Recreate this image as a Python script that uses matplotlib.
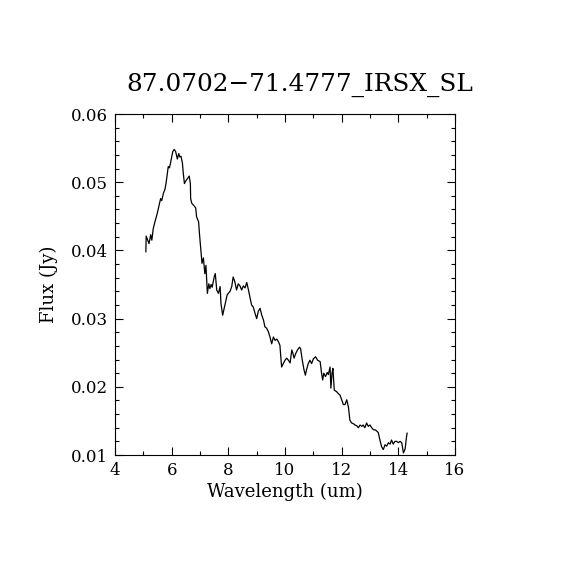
import matplotlib
matplotlib.use("Agg")
import matplotlib.pyplot as plt
from matplotlib.ticker import MultipleLocator

# spectrum
wave = [5.09, 5.10, 5.20, 5.26, 5.30, 5.35, 5.41, 5.49, 5.56, 5.61, 5.65, 5.71,
        5.76, 5.80, 5.85, 5.88, 5.92, 5.96, 6.00, 6.04, 6.09, 6.14, 6.20, 6.25,
        6.29, 6.33, 6.38, 6.41, 6.45, 6.50, 6.55, 6.62, 6.66, 6.67, 6.71, 6.78,
        6.85, 6.88, 6.95, 6.98, 7.04, 7.07, 7.12, 7.17, 7.21, 7.26, 7.31, 7.35,
        7.39, 7.43, 7.50, 7.54, 7.59, 7.65, 7.71, 7.74, 7.80, 7.88, 7.96, 8.06,
        8.12, 8.17, 8.23, 8.29, 8.35, 8.41, 8.47, 8.53, 8.59, 8.65, 8.71, 8.76,
        8.82, 8.88, 8.94, 9.00, 9.06, 9.12, 9.18, 9.24, 9.29, 9.35, 9.41, 9.47,
        9.53, 9.59, 9.65, 9.71, 9.77, 9.82, 9.88, 9.94, 10.00, 10.06, 10.12, 10.18,
        10.24, 10.28, 10.32, 10.38, 10.44, 10.51, 10.55, 10.61, 10.67, 10.72, 10.76, 10.82,
        10.88, 10.94, 11.00, 11.08, 11.15, 11.24, 11.29, 11.33, 11.37, 11.43, 11.49, 11.53,
        11.59, 11.62, 11.66, 11.69, 11.74, 11.82, 11.88, 11.94, 12.00, 12.06, 12.12, 12.18,
        12.24, 12.29, 12.35, 12.41, 12.47, 12.53, 12.59, 12.65, 12.71, 12.76, 12.82, 12.88,
        12.94, 13.00, 13.06, 13.12, 13.18, 13.24, 13.29, 13.35, 13.41, 13.47, 13.53, 13.59,
        13.65, 13.71, 13.76, 13.82, 13.88, 13.94, 14.00, 14.06, 14.12, 14.18, 14.24, 14.29,
        14.31]
flux = [0.0398, 0.0421, 0.0410, 0.0423, 0.0415, 0.0432, 0.0442, 0.0454, 0.0467, 0.0476, 0.0473, 0.0484,
        0.0489, 0.0498, 0.0513, 0.0523, 0.0521, 0.0528, 0.0537, 0.0545, 0.0548, 0.0545, 0.0534, 0.0542,
        0.0537, 0.0538, 0.0528, 0.0513, 0.0498, 0.0502, 0.0505, 0.0509, 0.0498, 0.0476, 0.0469, 0.0466,
        0.0462, 0.0449, 0.0442, 0.0425, 0.0396, 0.0381, 0.0389, 0.0366, 0.0378, 0.0337, 0.0351, 0.0344,
        0.0350, 0.0346, 0.0361, 0.0366, 0.0342, 0.0337, 0.0347, 0.0322, 0.0305, 0.0320, 0.0335, 0.0340,
        0.0347, 0.0361, 0.0354, 0.0342, 0.0351, 0.0348, 0.0342, 0.0348, 0.0345, 0.0353, 0.0342, 0.0332,
        0.0320, 0.0317, 0.0308, 0.0300, 0.0311, 0.0315, 0.0305, 0.0298, 0.0288, 0.0286, 0.0281, 0.0273,
        0.0263, 0.0273, 0.0268, 0.0270, 0.0266, 0.0261, 0.0229, 0.0234, 0.0239, 0.0242, 0.0239, 0.0235,
        0.0254, 0.0249, 0.0242, 0.0249, 0.0254, 0.0258, 0.0256, 0.0239, 0.0225, 0.0217, 0.0225, 0.0234,
        0.0239, 0.0234, 0.0241, 0.0244, 0.0239, 0.0237, 0.0220, 0.0210, 0.0220, 0.0215, 0.0221, 0.0218,
        0.0229, 0.0198, 0.0220, 0.0227, 0.0195, 0.0193, 0.0190, 0.0188, 0.0181, 0.0174, 0.0174, 0.0181,
        0.0170, 0.0151, 0.0147, 0.0146, 0.0144, 0.0143, 0.0140, 0.0144, 0.0142, 0.0144, 0.0140, 0.0147,
        0.0142, 0.0144, 0.0140, 0.0137, 0.0137, 0.0135, 0.0133, 0.0122, 0.0112, 0.0108, 0.0115, 0.0113,
        0.0118, 0.0116, 0.0122, 0.0116, 0.0120, 0.0120, 0.0118, 0.0120, 0.0118, 0.0103, 0.0109, 0.0127,
        0.0132]

title = "87.0702\u221271.4777_IRSX_SL"

plt.rcParams['font.family'] = ['DejaVu Serif']

fig = plt.figure(figsize=(5.7, 5.7), dpi=100)
ax = fig.add_axes([115 / 570, 115 / 570, 340 / 570, 341 / 570])

ax.plot(wave, flux, color='black', linewidth=0.9)

ax.set_xlim(4, 16)
ax.set_ylim(0.01, 0.06)
ax.xaxis.set_major_locator(MultipleLocator(2))
ax.xaxis.set_minor_locator(MultipleLocator(1))
ax.yaxis.set_major_locator(MultipleLocator(0.01))
ax.yaxis.set_minor_locator(MultipleLocator(0.002))
ax.yaxis.set_major_formatter(matplotlib.ticker.FormatStrFormatter('%.2f'))
ax.tick_params(which='both', direction='in', top=True, right=True, labelsize=12, width=0.8)
ax.tick_params(which='major', length=6, pad=5)
ax.tick_params(which='minor', length=3)
for s in ax.spines.values():
    s.set_linewidth(0.8)

ax.set_xlabel("Wavelength (um)", fontsize=13, labelpad=3)
ax.set_ylabel("Flux (Jy)", fontsize=13, labelpad=9)
# title sits a little right of the axes centre in the original
ax.set_title(title, fontsize=17.8, pad=17, x=0.543)

fig.savefig("out.png", dpi=100)
